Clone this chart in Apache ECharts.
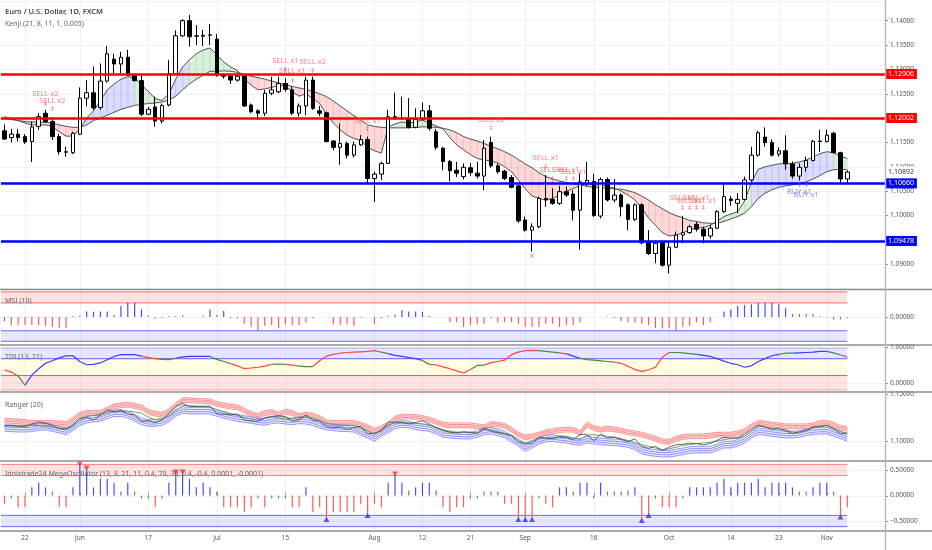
<!DOCTYPE html>
<html>
<head>
<meta charset="utf-8">
<script src="https://cdn.jsdelivr.net/npm/echarts@6/dist/echarts.min.js"></script>
<style>
html,body{margin:0;padding:0;background:#fff;}
#chart{width:932px;height:550px;}
</style>
</head>
<body>
<div id="chart"></div>
<script>
// ================= DATA =================
const firstDate = '2019-05-17';
const futureSlots = 5;
const tickDates = ['2019-05-22','2019-06-03','2019-06-17','2019-07-01','2019-07-15','2019-08-01','2019-08-12','2019-08-21','2019-09-02','2019-09-16','2019-10-01','2019-10-14','2019-10-23','2019-11-01'];
const tickLabels = ['22','Jun','17','Jul','15','Aug','12','21','Sep','16','Oct','14','23','Nov'];

const open = [
1.1174,1.1160,1.1167,1.1162,1.1152,1.1183,1.1210,1.1193,1.1162,1.1131,
1.1129,1.1167,1.1241,1.1252,1.1222,1.1276,1.1321,1.1311,1.1325,1.1288,
1.1277,1.1208,1.1223,1.1194,1.1227,1.1291,1.1369,1.1400,1.1368,1.1368,
1.1370,1.1362,1.1288,1.1286,1.1278,1.1286,1.1227,1.1215,1.1210,1.1251,
1.1254,1.1271,1.1258,1.1210,1.1225,1.1278,1.1215,1.1211,1.1153,1.1140,
1.1148,1.1124,1.1145,1.1156,1.1076,1.1085,1.1107,1.1203,1.1199,1.1200,
1.1181,1.1197,1.1215,1.1172,1.1138,1.1111,1.1093,1.1080,1.1098,1.1087,
1.1081,1.1150,1.1102,1.1091,1.1078,1.1061,1.0991,1.0970,1.0977,1.1035,
1.1033,1.1025,1.1049,1.1044,1.1011,1.1065,1.1070,1.0999,1.1074,1.1032,
1.1042,1.1022,1.0992,1.1022,1.0944,1.0922,1.0944,1.0898,1.0935,1.0960,
1.0965,1.0982,1.0972,1.0958,1.0974,1.1008,1.1034,1.1025,1.1033,1.1073,
1.1124,1.1161,1.1150,1.1126,1.1133,1.1106,1.1081,1.1099,1.1113,1.1153,
1.1152,1.1169,1.1129,1.1075];
const high = [
1.1187,1.1178,1.1177,1.1167,1.1193,1.1210,1.1217,1.1200,1.1168,1.1141,
1.1172,1.1263,1.1278,1.1306,1.1312,1.1348,1.1332,1.1336,1.1340,1.1292,
1.1288,1.1223,1.1244,1.1230,1.1319,1.1380,1.1403,1.1412,1.1391,1.1381,
1.1393,1.1373,1.1292,1.1291,1.1292,1.1288,1.1230,1.1218,1.1258,1.1285,
1.1285,1.1282,1.1265,1.1230,1.1285,1.1285,1.1225,1.1213,1.1155,1.1189,
1.1152,1.1152,1.1165,1.1162,1.1090,1.1111,1.1217,1.1252,1.1244,1.1241,
1.1220,1.1232,1.1227,1.1178,1.1141,1.1114,1.1110,1.1107,1.1108,1.1110,
1.1155,1.1162,1.1107,1.1094,1.1083,1.1063,1.0998,1.0984,1.1039,1.1083,
1.1056,1.1061,1.1059,1.1052,1.1086,1.1110,1.1086,1.1078,1.1078,1.1075,
1.1046,1.1025,1.1025,1.1025,1.0970,1.0946,1.0946,1.0946,1.0967,1.0999,
1.0981,1.0987,1.0977,1.0981,1.1011,1.1063,1.1040,1.1046,1.1080,1.1141,
1.1174,1.1181,1.1156,1.1140,1.1165,1.1111,1.1107,1.1121,1.1155,1.1176,
1.1176,1.1172,1.1131,1.1093];
const low = [
1.1155,1.1150,1.1152,1.1147,1.1110,1.1176,1.1190,1.1155,1.1125,1.1121,
1.1126,1.1165,1.1224,1.1217,1.1217,1.1273,1.1292,1.1292,1.1288,1.1275,
1.1204,1.1206,1.1182,1.1189,1.1224,1.1289,1.1367,1.1347,1.1350,1.1348,
1.1350,1.1285,1.1281,1.1270,1.1275,1.1223,1.1210,1.1196,1.1204,1.1247,
1.1251,1.1254,1.1206,1.1203,1.1206,1.1217,1.1204,1.1150,1.1134,1.1104,
1.1117,1.1119,1.1143,1.1065,1.1028,1.1073,1.1106,1.1196,1.1196,1.1179,
1.1179,1.1196,1.1174,1.1135,1.1093,1.1070,1.1079,1.1074,1.1082,1.1076,
1.1052,1.1098,1.1086,1.1073,1.1056,1.0985,1.0967,1.0926,1.0974,1.1018,
1.1022,1.1022,1.1038,1.0990,1.0930,1.1060,1.0997,1.0994,1.1029,1.1027,
1.0998,1.0970,1.0989,1.0941,1.0919,1.0902,1.0895,1.0881,1.0933,1.0943,
1.0962,1.0967,1.0943,1.0953,1.0972,1.1005,1.1020,1.1005,1.1031,1.1070,
1.1121,1.1141,1.1121,1.1121,1.1094,1.1076,1.1072,1.1090,1.1111,1.1131,
1.1150,1.1128,1.1064,1.1066];
const close = [
1.1157,1.1167,1.1160,1.1151,1.1182,1.1203,1.1193,1.1162,1.1131,1.1130,
1.1169,1.1241,1.1252,1.1221,1.1276,1.1332,1.1311,1.1325,1.1288,1.1277,
1.1208,1.1218,1.1194,1.1226,1.1291,1.1369,1.1400,1.1367,1.1369,1.1370,
1.1371,1.1288,1.1286,1.1278,1.1286,1.1225,1.1213,1.1210,1.1251,1.1258,
1.1271,1.1259,1.1210,1.1225,1.1278,1.1220,1.1210,1.1152,1.1140,1.1148,
1.1124,1.1145,1.1156,1.1076,1.1085,1.1107,1.1203,1.1199,1.1200,1.1181,
1.1197,1.1215,1.1179,1.1140,1.1111,1.1092,1.1087,1.1099,1.1088,1.1081,
1.1138,1.1102,1.1090,1.1076,1.1058,1.0989,1.0970,1.0977,1.1035,1.1032,
1.1025,1.1049,1.1042,1.1011,1.1069,1.1072,1.1000,1.1074,1.1032,1.1042,
1.1018,1.0992,1.1022,1.0944,1.0922,1.0943,1.0898,1.0935,1.0960,1.0965,
1.0977,1.0972,1.0958,1.0974,1.1008,1.1039,1.1031,1.1033,1.1073,1.1124,
1.1170,1.1150,1.1124,1.1133,1.1106,1.1081,1.1099,1.1113,1.1152,1.1152,
1.1165,1.1129,1.1075,1.10892];

// Kenji (21, 8, 11, 1, 0.005) lines and zone state (1 bull, -1 bear, 0 neutral)
const kenjiFast = [
1.1203,1.1199,1.1195,1.1190,1.1186,1.1186,1.1186,1.1183,1.1172,1.1163,
1.1163,1.1178,1.1200,1.1215,1.1235,1.1258,1.1270,1.1280,1.1285,1.1283,
1.1268,1.1255,1.1240,1.1236,1.1250,1.1280,1.1305,1.1320,1.1332,1.1340,
1.1344,1.1330,1.1315,1.1305,1.1298,1.1280,1.1268,1.1258,1.1260,1.1263,
1.1267,1.1266,1.1254,1.1245,1.1250,1.1240,1.1230,1.1208,1.1190,1.1176,
1.1165,1.1158,1.1155,1.1140,1.1133,1.1128,1.1182,1.1188,1.1192,1.1190,
1.1192,1.1196,1.1190,1.1184,1.1178,1.1160,1.1145,1.1135,1.1125,1.1117,
1.1114,1.1112,1.1108,1.1100,1.1090,1.1073,1.1055,1.1040,1.1035,1.1032,
1.1035,1.1042,1.1050,1.1055,1.1062,1.1066,1.1062,1.1064,1.1060,1.1056,
1.1050,1.1042,1.1032,1.1015,1.0995,1.0980,1.0965,1.0958,1.0960,1.0965,
1.0970,1.0975,1.0975,1.0980,1.0988,1.0998,1.1003,1.1008,1.1030,1.1068,
1.1095,1.1100,1.1103,1.1106,1.1107,1.1107,1.1110,1.1114,1.1120,1.1127,
1.1131,1.1129,1.1122,1.1117];
const kenjiSlow = [
1.1199,1.1197,1.1195,1.1193,1.1192,1.1192,1.1191,1.1190,1.1186,1.1183,
1.1181,1.1181,1.1186,1.1195,1.1200,1.1206,1.1212,1.1218,1.1222,1.1226,
1.1228,1.1230,1.1231,1.1233,1.1237,1.1245,1.1258,1.1270,1.1280,1.1288,
1.1296,1.1296,1.1297,1.1296,1.1294,1.1290,1.1286,1.1283,1.1280,1.1276,
1.1272,1.1269,1.1265,1.1262,1.1259,1.1255,1.1250,1.1244,1.1235,1.1225,
1.1215,1.1205,1.1196,1.1186,1.1183,1.1181,1.1180,1.1180,1.1180,1.1180,
1.1181,1.1182,1.1182,1.1181,1.1179,1.1176,1.1170,1.1162,1.1157,1.1153,
1.1148,1.1142,1.1137,1.1131,1.1124,1.1115,1.1106,1.1098,1.1088,1.1080,
1.1075,1.1071,1.1068,1.1065,1.1063,1.1060,1.1058,1.1057,1.1056,1.1055,
1.1054,1.1051,1.1047,1.1040,1.1032,1.1022,1.1014,1.1006,1.1000,1.0995,
1.0990,1.0988,1.0985,1.0984,1.0984,1.0988,1.0993,1.0998,1.1005,1.1018,
1.1035,1.1046,1.1053,1.1058,1.1061,1.1063,1.1066,1.1069,1.1075,1.1082,
1.1090,1.1094,1.1095,1.1094];
const kenjiZone = [
0,0,0,
-1,-1,-1,-1,-1,-1,-1,-1,
1,1,1,1,1,1,1,1,
0,0,0,0,0,
1,1,1,
0,0,0,0,0,0,0,0,
-1,-1,-1,-1,-1,-1,-1,-1,-1,-1,-1,-1,-1,-1,-1,-1,-1,-1,-1,-1,-1,
0,0,0,0,0,0,0,0,0,
-1,-1,-1,-1,-1,-1,-1,-1,-1,-1,-1,-1,-1,-1,-1,-1,-1,-1,-1,
0,0,0,0,0,
-1,-1,-1,-1,-1,-1,-1,-1,-1,-1,-1,-1,-1,
0,0,0,0,0,0,0,
1,1,1,1,1,1,1,1,1,1,1,1,
0,0,0];

// horizontal levels
const resistanceLevels = [1.12906, 1.12002];
const supportLevels = [1.10660, 1.09478];

// Kenji signals
const sigIdx   = [6,7,41,42,45,53,71,79,80,82,83,99,100,101,102,116,117];
const sigText  = ['SELL x2','SELL x2','SELL x1','SELL x1','SELL x2','SELL x1','SELL x2','SELL x1','SELL x1','SELL x1','SELL x1','SELL x1','SELL x1','SELL x1','SELL x1','BUY x1','BUY x1'];
const sigTextPrice = [1.12495,1.12351,1.13173,1.12973,1.13158,1.11947,1.11961,1.11175,1.10935,1.10935,1.10894,1.10370,1.10309,1.10370,1.10309,1.10483,1.10422];
const sigMarkPrice = [1.12290,1.12187,1.12978,1.12768,1.12973,1.11777,1.11791,1.10990,1.10750,1.10750,1.10750,1.10149,1.10149,1.10149,1.10149,1.10637,1.10637];
const crossIdx = [77];
const crossPrice = [1.09155];

// MSI (10)
const msi = [
-0.15,-0.30,-0.30,-0.30,-0.30,-0.30,-0.33,-0.37,-0.40,-0.40,
0.04,0.05,0.20,0.20,0.20,0.20,0.07,0.41,0.53,0.53,
0.28,0.06,-0.06,-0.04,0.04,0.04,0.06,null,null,0.05,
0.28,0.08,0.22,-0.03,-0.05,-0.25,-0.37,-0.52,-0.33,-0.30,
-0.42,-0.27,-0.30,-0.30,-0.21,-0.04,null,null,-0.27,-0.30,
-0.27,-0.33,-0.03,null,-0.25,-0.05,0.05,0.09,0.25,0.20,
0.20,0.20,0.04,null,null,-0.19,-0.19,-0.37,-0.30,-0.25,
-0.25,-0.05,-0.19,-0.19,-0.19,-0.25,-0.37,-0.37,-0.37,-0.25,
-0.25,-0.37,-0.30,-0.30,-0.19,null,null,null,0.02,-0.04,
-0.15,-0.19,-0.19,-0.25,-0.30,-0.42,-0.43,-0.43,-0.49,-0.37,
-0.33,-0.19,-0.30,-0.19,null,0.20,0.28,0.41,0.44,0.47,
0.53,0.53,0.53,0.47,0.32,0.12,0.12,0.12,0.12,0.04,
-0.02,-0.09,-0.09,-0.04];
const msiBands = [0.52, 0.93, -0.90, -0.51];

// TDI (13, 21)
const tdi = [
0.36,0.31,0.20,-0.06,0.22,0.40,0.55,0.62,0.70,0.76,
0.76,0.60,0.51,0.52,0.56,0.65,0.74,0.79,0.79,0.79,
0.75,0.71,0.68,0.66,0.65,0.69,0.73,0.74,0.74,0.74,
0.74,0.66,0.60,0.54,0.48,0.40,0.42,0.44,0.47,0.52,
0.53,0.52,0.50,0.47,0.46,0.46,0.62,0.75,0.80,0.83,
0.85,0.86,0.87,0.88,0.90,0.86,0.82,0.77,0.74,0.71,
0.68,0.63,0.52,0.51,0.45,0.40,0.34,0.28,0.38,0.49,
0.50,0.57,0.60,0.64,0.79,0.86,0.90,0.91,0.90,0.88,
0.86,0.84,0.81,0.75,0.69,0.65,0.64,0.62,0.60,0.58,
0.55,0.47,0.38,0.32,0.37,0.44,0.72,0.85,0.85,0.84,
0.82,0.80,0.77,0.74,0.68,0.61,0.55,0.51,0.44,0.48,
0.60,0.68,0.76,0.80,0.83,0.83,0.84,0.85,0.86,0.88,
0.88,0.84,0.78,0.72];
const tdiState = [
-1,-1,-1,0,1,1,1,1,1,1,
0,1,1,1,1,1,1,1,1,1,
1,-1,-1,-1,0,0,1,1,1,1,
1,0,0,0,-1,-1,-1,-1,-1,-1,
0,0,-1,-1,0,0,-1,-1,-1,-1,
-1,-1,-1,-1,-1,-1,0,1,1,1,
1,1,0,-1,-1,-1,-1,-1,-1,0,
0,-1,-1,-1,-1,-1,-1,-1,-1,0,
0,0,-1,1,1,0,0,0,0,0,
-1,-1,-1,-1,-1,-1,-1,-1,0,0,
0,0,1,1,1,1,1,1,1,1,
1,1,1,1,0,0,1,1,1,1,
1,0,0,-1];
const tdiBands = [0.675, 0.97, 0.21, -0.19];

// Ranger (20)
const rangerUpper = [
1.1216,1.1213,1.1209,1.1202,1.1195,1.1192,1.1192,1.1192,1.1188,1.1181,
1.1224,1.1280,1.1298,1.1298,1.1298,1.1334,1.1369,1.1380,1.1387,1.1373,
1.1358,1.1309,1.1291,1.1280,1.1316,1.1380,1.1436,1.1433,1.1429,1.1426,
1.1422,1.1394,1.1380,1.1366,1.1358,1.1323,1.1288,1.1266,1.1298,1.1309,
1.1280,1.1312,1.1298,1.1266,1.1280,1.1270,1.1245,1.1199,1.1192,1.1192,
1.1192,1.1192,1.1174,1.1146,1.1110,1.1138,1.1174,1.1238,1.1259,1.1259,
1.1256,1.1245,1.1227,1.1202,1.1174,1.1167,1.1167,1.1167,1.1167,1.1156,
1.1146,1.1181,1.1174,1.1163,1.1121,1.1068,1.1039,1.1050,1.1068,1.1092,
1.1103,1.1117,1.1121,1.1121,1.1085,1.1174,1.1138,1.1121,1.1131,1.1124,
1.1110,1.1092,1.1082,1.1068,1.1046,1.1025,1.0997,1.0990,1.1025,1.1043,
1.1050,1.1050,1.1050,1.1057,1.1068,1.1068,1.1068,1.1082,1.1103,1.1156,
1.1192,1.1188,1.1174,1.1167,1.1156,1.1156,1.1156,1.1156,1.1167,1.1192,
1.1192,1.1174,1.1138,1.1131];
const rangerLower = [
1.1138,1.1135,1.1131,1.1131,1.1135,1.1149,1.1153,1.1138,1.1121,1.1103,
1.1146,1.1202,1.1227,1.1238,1.1245,1.1273,1.1295,1.1298,1.1280,1.1245,
1.1209,1.1192,1.1192,1.1202,1.1238,1.1298,1.1330,1.1323,1.1323,1.1323,
1.1323,1.1298,1.1277,1.1259,1.1245,1.1234,1.1224,1.1209,1.1202,1.1220,
1.1227,1.1216,1.1209,1.1220,1.1216,1.1199,1.1174,1.1153,1.1146,1.1138,
1.1135,1.1131,1.1096,1.1068,1.1032,1.1085,1.1121,1.1167,1.1181,1.1174,
1.1156,1.1146,1.1138,1.1110,1.1075,1.1068,1.1061,1.1057,1.1057,1.1075,
1.1103,1.1110,1.1092,1.1068,1.1025,1.0979,1.0925,1.0961,1.1004,1.1025,
1.1032,1.1021,1.1014,1.0997,1.0990,1.1014,1.1004,1.0997,1.0990,1.0986,
1.0979,1.0968,1.0943,1.0897,1.0883,1.0872,1.0865,1.0865,1.0876,1.0890,
1.0904,1.0908,1.0908,1.0908,1.0933,1.0961,1.0961,1.0979,1.1014,1.1068,
1.1103,1.1096,1.1085,1.1075,1.1068,1.1068,1.1075,1.1092,1.1103,1.1110,
1.1110,1.1085,1.1061,1.1032];
const rangerMid = [
1.1167,1.1160,1.1156,1.1160,1.1167,1.1163,1.1156,1.1146,1.1138,1.1124,
1.1156,1.1216,1.1263,1.1273,1.1288,1.1302,1.1316,1.1316,1.1316,1.1309,
1.1298,1.1252,1.1227,1.1238,1.1263,1.1323,1.1380,1.1376,1.1369,1.1366,
1.1358,1.1334,1.1309,1.1288,1.1273,1.1252,1.1234,1.1224,1.1238,1.1263,
1.1245,1.1234,1.1238,1.1248,1.1259,1.1245,1.1220,1.1192,1.1174,1.1167,
1.1167,1.1167,1.1138,1.1110,1.1068,1.1121,1.1174,1.1192,1.1192,1.1192,
1.1188,1.1181,1.1167,1.1146,1.1121,1.1103,1.1085,1.1092,1.1096,1.1082,
1.1121,1.1121,1.1096,1.1082,1.1061,1.1014,1.0979,1.1004,1.1032,1.1032,
1.1032,1.1036,1.1039,1.1032,1.1014,1.1061,1.1068,1.1057,1.1050,1.1039,
1.1025,1.1004,1.0979,1.0961,1.0943,1.0925,1.0908,1.0918,1.0933,1.0954,
1.0961,1.0972,1.0979,1.0986,1.0997,1.1014,1.1025,1.1032,1.1050,1.1103,
1.1156,1.1149,1.1138,1.1128,1.1121,1.1096,1.1085,1.1110,1.1138,1.1163,
1.1167,1.1138,1.1103,1.1075];

// Idnistrade24 MegaOscillator
const mega = [
-0.16,-0.06,-0.23,-0.23,0.16,0.25,0.16,0.08,-0.23,-0.23,
0.16,0.62,0.54,0.16,0.33,0.33,0.25,0.08,0.25,0.08,
-0.06,-0.06,-0.23,-0.06,0.25,0.46,0.46,0.33,0.16,0.25,
0.16,0.08,-0.23,-0.23,-0.23,-0.33,-0.23,-0.06,-0.23,-0.06,
-0.06,-0.06,-0.23,-0.23,0.16,-0.33,-0.23,-0.47,-0.33,-0.33,
-0.33,-0.33,-0.16,-0.39,-0.16,-0.23,0.25,0.42,0.25,0.10,
0.16,0.25,0.25,0.10,-0.23,-0.33,-0.23,-0.23,-0.06,-0.06,
0.08,0.08,0.08,-0.16,-0.16,-0.47,-0.47,-0.47,-0.06,-0.16,
-0.23,0.16,0.16,0.08,0.25,0.25,-0.06,0.25,0.08,0.08,
0.08,0.10,0.16,-0.49,-0.39,-0.06,-0.23,-0.23,-0.23,-0.06,
0.16,0.16,0.16,0.16,0.25,0.33,0.16,0.25,0.25,0.25,
0.33,0.16,0.25,0.25,0.25,0.16,0.08,0.08,0.16,0.25,
0.25,0.08,-0.42,-0.23];
const megaBands = [0.39, 0.61, -0.61, -0.39];

// ================= BUILD =================
function weekdays(start, n) {
  const out = []; const d = new Date(start + 'T00:00:00Z');
  while (out.length < n) { const w = d.getUTCDay(); if (w > 0 && w < 6) out.push(d.toISOString().slice(0, 10)); d.setUTCDate(d.getUTCDate() + 1); }
  return out;
}
const categories = weekdays(firstDate, close.length + futureSlots);
const LAST = close.length - 1;
const tickIdx = tickDates.map(d => categories.indexOf(d));
const tickSet = new Set(tickDates);
const labelOf = {}; tickDates.forEach((d, k) => labelOf[d] = tickLabels[k]);

const FF = '"Noto Sans","DejaVu Sans",sans-serif';
const GRID_LINE = '#eef1f6';
const paneBounds = [[0, 289], [289, 345], [345, 392], [392, 461], [461, 531]];
const gridDefs = [
  { top: 1.2, height: 287.4 },
  { top: 290, height: 54 },
  { top: 345.3, height: 46.8 },
  { top: 392.5, height: 72 },
  { top: 457.25, height: 76.5 }
];
const grids = gridDefs.map(g => Object.assign({ left: 1, right: 47, show: false, containLabel: false, outerBoundsMode: 'none' }, g));

const xAxes = grids.map((g, k) => ({
  type: 'category', gridIndex: k, data: categories, boundaryGap: true,
  axisLine: { show: false }, splitLine: { show: false },
  axisTick: k === 4 ? { show: true, inside: true, length: 3, alignWithLabel: true, interval: (i, v) => tickSet.has(v), lineStyle: { color: '#999' } } : { show: false },
  axisLabel: k === 4 ? { show: true, interval: (i, v) => tickSet.has(v), formatter: v => labelOf[v] || '', fontSize: 6.5, color: '#555', margin: 1, fontFamily: FF } : { show: false }
}));

const near = (a, b) => Math.abs(a - b) < 1e-7;
const yBase = { position: 'right', axisLine: { show: false }, splitLine: { show: false }, axisTick: { show: false } };
const yLab = (fmt) => ({ fontSize: 6.5, color: '#555', margin: 5, fontFamily: FF, formatter: fmt, showMinLabel: true, showMaxLabel: true });
const yAxes = [
  Object.assign({}, yBase, { gridIndex: 0, min: 1.085, max: 1.144, interval: 0.005,
    axisTick: { show: true, length: 3, lineStyle: { color: '#888' } },
    splitLine: { show: true, lineStyle: { color: GRID_LINE, width: 1 } },
    axisLabel: Object.assign(yLab(v => v.toFixed(5)), { showMinLabel: false, showMaxLabel: false }) }),
  Object.assign({}, yBase, { gridIndex: 1, min: -1, max: 1, interval: 1, axisLabel: yLab(v => near(v, 0) ? '0.00000' : '') }),
  Object.assign({}, yBase, { gridIndex: 2, min: -0.25, max: 1.05, interval: 0.25, axisLabel: Object.assign(yLab(v => near(v, 1) ? '1.00000' : near(v, 0) ? '0.00000' : ''), { showMaxLabel: false }) }),
  Object.assign({}, yBase, { gridIndex: 3, min: 1.075, max: 1.1516, interval: 0.025, axisLabel: Object.assign(yLab(v => near(v, 1.1) ? '1.10000' : near(v, 1.15) ? '1.15000' : ''), { showMaxLabel: false }) }),
  Object.assign({}, yBase, { gridIndex: 4, min: -0.75, max: 0.75, interval: 0.25, axisLabel: yLab(v => near(v, 0.5) ? '0.50000' : near(v, 0) ? '0.00000' : near(v, -0.5) ? '\u22120.50000' : '') })
];

// vertical grid lines
function vGrid(g) {
  return { type: 'custom', xAxisIndex: g, yAxisIndex: g, z: 0, silent: true, data: tickIdx.map(i => [i, 0]), encode: { x: 0, y: 1 },
    renderItem: (p, api) => {
      const x = Math.round(api.coord([api.value(0), 0])[0]) + 0.5;
      return { type: 'line', shape: { x1: x, y1: paneBounds[g][0], x2: x, y2: paneBounds[g][1] }, style: { stroke: GRID_LINE, lineWidth: 1 } };
    } };
}
// horizontal grid lines + ticks for indicator panes
function hGrid(g, vals) {
  return { type: 'custom', xAxisIndex: g, yAxisIndex: g, z: 0, silent: true, data: vals.map(v => [0, v]), encode: { x: 0, y: 1 },
    renderItem: (p, api) => {
      const cs = p.coordSys; const y = Math.round(api.coord([0, api.value(1)])[1]) + 0.5;
      return { type: 'group', children: [
        { type: 'line', shape: { x1: cs.x, y1: y, x2: cs.x + cs.width, y2: y }, style: { stroke: GRID_LINE, lineWidth: 1 } },
        { type: 'line', shape: { x1: cs.x + cs.width, y1: y, x2: cs.x + cs.width + 3, y2: y }, style: { stroke: '#888', lineWidth: 1 } }
      ] };
    } };
}
// shaded bands ending at last bar
function bands(g, list) {
  return { type: 'custom', xAxisIndex: g, yAxisIndex: g, z: 1, silent: true, data: list.map((b, k) => [k, 0]), encode: { x: 0, y: 1 },
    renderItem: (p, api) => {
      const b = list[api.value(0)]; const cs = p.coordSys;
      const xEnd = api.coord([LAST, 0])[0];
      const yHi = api.coord([0, b.hi])[1], yLo = api.coord([0, b.lo])[1];
      const ch = [{ type: 'rect', shape: { x: cs.x, y: yHi, width: xEnd - cs.x, height: yLo - yHi }, style: { fill: b.fill } }];
      if (b.sHi) ch.push({ type: 'line', shape: { x1: cs.x, y1: yHi, x2: xEnd, y2: yHi }, style: { stroke: b.sHi, lineWidth: 1 } });
      if (b.sLo) ch.push({ type: 'line', shape: { x1: cs.x, y1: yLo, x2: xEnd, y2: yLo }, style: { stroke: b.sLo, lineWidth: 1 } });
      return { type: 'group', children: ch };
    } };
}
const PINK = 'rgba(255,90,90,0.17)', LAV = 'rgba(90,90,255,0.15)';
const msiBandList = [
  { lo: msiBands[0], hi: msiBands[1], fill: PINK, sHi: 'rgba(255,60,60,0.75)', sLo: 'rgba(255,60,60,0.75)' },
  { lo: msiBands[2], hi: msiBands[3], fill: LAV, sHi: 'rgba(60,60,255,0.75)', sLo: 'rgba(60,60,255,0.75)' }
];
const tdiBandList = [
  { lo: tdiBands[0], hi: tdiBands[1], fill: LAV, sHi: 'rgba(60,60,255,0.35)', sLo: '#4040ff' },
  { lo: tdiBands[2], hi: tdiBands[0], fill: 'rgba(255,250,170,0.35)' },
  { lo: tdiBands[3], hi: tdiBands[2], fill: PINK, sHi: '#ff5050', sLo: 'rgba(255,80,80,0.45)' }
];
const megaBandList = [
  { lo: megaBands[0], hi: megaBands[1], fill: PINK, sHi: 'rgba(255,70,70,0.7)', sLo: 'rgba(255,70,70,0.7)' },
  { lo: megaBands[2], hi: megaBands[3], fill: LAV, sHi: 'rgba(70,70,255,0.8)', sLo: 'rgba(70,70,255,0.8)' }
];

// Kenji cloud
const zoneFill = { '1': 'rgba(130,130,250,0.28)', '-1': 'rgba(250,120,120,0.28)', '0': 'rgba(120,200,120,0.28)' };
const kenjiCloud = { type: 'custom', xAxisIndex: 0, yAxisIndex: 0, z: 1, silent: true, clip: true,
  data: kenjiFast.slice(0, -1).map((f, i) => [i, f, kenjiSlow[i], kenjiFast[i + 1], kenjiSlow[i + 1], kenjiZone[i]]),
  encode: { x: 0, y: [1, 2] },
  renderItem: (p, api) => {
    const i = api.value(0);
    const a = api.coord([i, api.value(1)]), b = api.coord([i + 1, api.value(3)]);
    const c = api.coord([i + 1, api.value(4)]), d = api.coord([i, api.value(2)]);
    const col = zoneFill[String(api.value(5))];
    return { type: 'polygon', shape: { points: [a, b, c, d] }, style: { fill: col, stroke: col, lineWidth: 0.6 } };
  } };

// ranger multi-stroke bands
function rangerBand(arr, stroke, fill, offs) {
  return { type: 'custom', xAxisIndex: 3, yAxisIndex: 3, z: 2, silent: true, clip: true,
    data: arr.slice(1).map((v, k) => [k + 1, arr[k], v]), encode: { x: 0, y: 2 },
    renderItem: (p, api) => {
      const i = api.value(0);
      const a = api.coord([i - 1, api.value(1)]), b = api.coord([i, api.value(2)]);
      const lo = offs[0], hi = offs[offs.length - 1];
      const ch = [{ type: 'polygon', shape: { points: [[a[0], a[1] + lo], [b[0], b[1] + lo], [b[0], b[1] + hi], [a[0], a[1] + hi]] }, style: { fill } }];
      offs.forEach(o => ch.push({ type: 'line', shape: { x1: a[0], y1: a[1] + o, x2: b[0], y2: b[1] + o }, style: { stroke, lineWidth: 0.7 } }));
      return { type: 'group', children: ch };
    } };
}

const candleData = open.map((o, i) => [o, close[i], low[i], high[i]]);
const levelMarks = resistanceLevels.map(v => ({ yAxis: v, lineStyle: { color: '#ff0000', width: 2.5, type: 'solid' }, label: { backgroundColor: '#ff0000' } }))
  .concat(supportLevels.map(v => ({ yAxis: v, lineStyle: { color: '#0000ff', width: 2.5, type: 'solid' }, label: { backgroundColor: '#0000ff' } })))
  .concat([{ yAxis: close[LAST], lineStyle: { color: 'rgba(0,0,0,0)', width: 1, type: 'solid' }, label: { backgroundColor: '#ffffff', color: '#333', padding: [2, 3, 2, 3] } }]);

const isBuy = sigText.map(t => t.indexOf('BUY') === 0);
function sigScatter(priceArr, buy, textFn, color, size) {
  return { type: 'scatter', xAxisIndex: 0, yAxisIndex: 0, z: 6, silent: true, symbol: 'circle', symbolSize: 0.5,
    itemStyle: { color: 'rgba(0,0,0,0)' },
    data: sigIdx.map((i, k) => ({ value: [i, priceArr[k]], name: textFn(k) })).filter((d, k) => isBuy[k] === buy),
    label: { show: true, position: 'inside', formatter: p => p.name, color, fontSize: size, fontFamily: FF } };
}

const tdiColor = { '-1': '#ff4444', '1': '#3b3bff', '0': '#3f8f3f' };
const tdiLines = [-1, 1, 0].map(c => ({ type: 'line', xAxisIndex: 2, yAxisIndex: 2, z: 3, silent: true, showSymbol: false, connectNulls: false,
  data: tdi.map((v, i) => (tdiState[i] === c || tdiState[i + 1] === c) ? v : null), lineStyle: { color: tdiColor[c], width: 1.2 } }));

const series = [
  vGrid(0), vGrid(1), vGrid(2), vGrid(3), vGrid(4),
  hGrid(1, [0]), hGrid(2, [0, 1]), hGrid(3, [1.10, 1.15]), hGrid(4, [0.5, 0, -0.5]),
  bands(1, msiBandList), bands(2, tdiBandList), bands(4, megaBandList),
  kenjiCloud,
  { type: 'line', xAxisIndex: 0, yAxisIndex: 0, z: 3, silent: true, showSymbol: false, data: kenjiFast, lineStyle: { color: '#555', width: 1 } },
  { type: 'line', xAxisIndex: 0, yAxisIndex: 0, z: 3, silent: true, showSymbol: false, data: kenjiSlow, lineStyle: { color: '#555', width: 1 } },
  { type: 'candlestick', xAxisIndex: 0, yAxisIndex: 0, z: 4, silent: true, barWidth: 4, data: candleData,
    itemStyle: { color: '#ffffff', color0: '#000000', borderColor: '#000000', borderColor0: '#000000', borderWidth: 1 },
    markLine: { silent: true, symbol: ['none', 'none'], animation: false, precision: 5,
      label: { show: true, position: 'end', distance: 0, fontSize: 7, color: '#fff', padding: [2, 3, 1, 3], fontFamily: FF, formatter: p => Number(p.value).toFixed(5) },
      data: levelMarks } },
  sigScatter(sigTextPrice, false, k => sigText[k], '#ff5c5c', 7.5),
  sigScatter(sigTextPrice, true, k => sigText[k], '#7070f0', 7.5),
  sigScatter(sigMarkPrice, false, k => '\u2021', '#ff3b3b', 7),
  sigScatter(sigMarkPrice, true, k => '\u2021', '#5b5bf0', 7),
  { type: 'scatter', xAxisIndex: 0, yAxisIndex: 0, z: 6, silent: true, symbolSize: 0.5, itemStyle: { color: 'rgba(0,0,0,0)' },
    data: crossIdx.map((i, k) => ({ value: [i, crossPrice[k]], name: '\u00d7' })),
    label: { show: true, position: 'inside', formatter: p => p.name, color: '#ff3b3b', fontSize: 8, fontFamily: FF } },
  { type: 'bar', xAxisIndex: 1, yAxisIndex: 1, z: 3, silent: true, barWidth: 1.2, data: msi,
    itemStyle: { color: p => p.value > 0.15 ? '#4c4cff' : p.value < -0.15 ? '#ff5a5a' : '#4e9a4e' } },
  ...tdiLines,
  rangerBand(rangerUpper, '#ff6a6a', 'rgba(255,120,120,0.16)', [-2.4, -0.8, 0.8, 2.4]),
  rangerBand(rangerLower, '#6a6aff', 'rgba(120,120,255,0.16)', [-3.3, -1.1, 1.1, 3.3]),
  { type: 'line', xAxisIndex: 3, yAxisIndex: 3, z: 3, silent: true, showSymbol: false, data: rangerMid, lineStyle: { color: '#62a862', width: 1 } },
  { type: 'line', xAxisIndex: 3, yAxisIndex: 3, z: 3, silent: true, showSymbol: false, data: close, lineStyle: { color: '#444', width: 0.8 } },
  { type: 'bar', xAxisIndex: 4, yAxisIndex: 4, z: 3, silent: true, barWidth: 1.2, data: mega,
    itemStyle: { color: p => p.value > 0.12 ? '#4c4cff' : p.value < -0.12 ? '#ff5a5a' : '#4e9a4e' } },
  { type: 'scatter', xAxisIndex: 4, yAxisIndex: 4, z: 5, silent: true, symbol: 'triangle', symbolRotate: 180, symbolSize: [6, 5],
    itemStyle: { color: '#ff2f2f' }, data: mega.map((v, i) => v >= 0.38 ? [i, v] : null).filter(Boolean) },
  { type: 'scatter', xAxisIndex: 4, yAxisIndex: 4, z: 5, silent: true, symbol: 'triangle', symbolSize: [6, 5],
    itemStyle: { color: '#2f2fff' }, data: mega.map((v, i) => v <= -0.38 ? [i, v] : null).filter(Boolean) }
];

const sepLines = [289.5, 345, 392, 461, 531].map(y => ({ type: 'line', z: 100, silent: true, shape: { x1: 0, y1: y, x2: 932, y2: y }, style: { stroke: '#8e8e8e', lineWidth: 1.5 } }));
const txt = (x, y, text, font, fill) => ({ type: 'text', x, y, z: 101, silent: true, style: { text, font, fill, verticalAlign: 'middle', align: 'left' } });
const graphic = sepLines.concat([
  { type: 'line', z: 100, silent: true, shape: { x1: 885.5, y1: 0, x2: 885.5, y2: 550 }, style: { stroke: '#c2b7ba', lineWidth: 1.5 } },
  txt(5, 12, 'Euro / U.S. Dollar, 1D, FXCM', '600 7.5px ' + FF, '#434651'),
  txt(5, 24, 'Kenji (21, 8, 11, 1, 0.005)', '7px ' + FF, '#666'),
  txt(5, 301, 'MSI (10)', '7px ' + FF, '#666'),
  txt(5, 357, 'TDI (13, 21)', '7px ' + FF, '#666'),
  txt(5, 405, 'Ranger (20)', '7px ' + FF, '#666'),
  txt(5, 474, 'Idnistrade24 MegaOscillator (13, 8, 21, 11, 0.4, 70, 30, 0.4, -0.4, 0.0001, -0.0001)', '7px ' + FF, '#666')
]);

const chart = echarts.init(document.getElementById('chart'), null, { renderer: 'canvas' });
chart.setOption({
  backgroundColor: '#ffffff',
  animation: false,
  textStyle: { fontFamily: FF },
  grid: grids, xAxis: xAxes, yAxis: yAxes,
  series, graphic
});
</script>
</body>
</html>
